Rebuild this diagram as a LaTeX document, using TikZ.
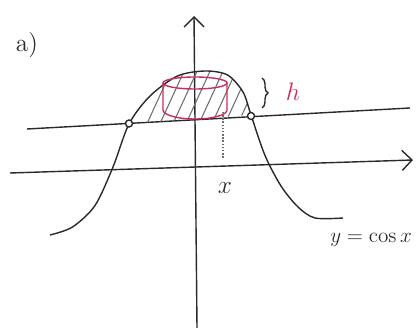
\documentclass[tikz,border=0pt]{standalone}
\usepackage{amsmath,amssymb}
\usepackage{tikz}
\usetikzlibrary{arrows.meta,calc,decorations.pathreplacing,positioning}
\definecolor{SketchRed}{HTML}{C8305A}
\definecolor{SketchInk}{HTML}{2A2A2A}
\definecolor{SketchPencil}{HTML}{6E6E6E}

\begin{document}
\begin{tikzpicture}[
          axis/.style={-{Straight Barb[length=2mm]},thick,draw=SketchInk},
          level/.style={thick,draw=SketchInk},
          curve/.style={thick,draw=SketchInk,smooth},
          hatch/.style={semithick,draw=SketchPencil},
          solid body/.style={thick,draw=SketchRed},
          dotmark/.style={circle,draw=SketchInk,thick,fill=white,inner sep=0pt,minimum size=1.4mm},
          drop/.style={densely dotted,thick,draw=SketchPencil},
          tag/.style={font=\Large,text=SketchInk}
        ]
        \path[use as bounding box] (0,0) rectangle (8.38,6.56);

        \draw[axis] (0.20,3.10) -- (8.26,3.36);
        \draw[axis] (3.94,0) -- (3.88,6.24);
        \draw[level] (0.54,3.98) -- (8.20,4.40);

        \begin{scope}
          \clip plot[smooth] coordinates {(2.58,4.08) (3.00,4.64)
            (3.55,5.04) (4.10,5.14) (4.55,5.06) (4.86,4.72) (5.02,4.26)}
            -- cycle;
          \foreach \hx in {2.9,3.16,...,5.0}
            \draw[hatch] (\hx,4.0) -- ++(0.55,1.2);
        \end{scope}

        \draw[curve] plot coordinates {(1.00,1.86) (1.45,2.02) (1.90,2.45)
          (2.26,3.22) (2.58,4.08) (3.00,4.64) (3.55,5.04) (4.10,5.14)
          (4.55,5.06) (4.86,4.72) (5.02,4.26) (5.30,3.45) (5.62,2.84)
          (5.96,2.42) (6.30,2.20) (6.86,2.20)};

        \draw[solid body] (3.90,4.90) ellipse[x radius=0.64,y radius=0.12];
        \draw[solid body] (3.26,4.90) -- (3.26,4.36)
          arc[start angle=180,end angle=360,x radius=0.64,y radius=0.18]
          -- (4.54,4.90);

        \coordinate (cutL) at (2.58,4.09);
        \coordinate (cutR) at (5.02,4.24);
        \node[dotmark] (dotL) at (cutL) {};
        \node[dotmark] (dotR) at (cutR) {};

        \coordinate (rimR) at (4.46,4.32);
        \coordinate (footR) at (4.46,3.40);
        \draw[drop] (rimR) -- (footR);

        \draw[thick,draw=SketchInk,decorate,decoration={brace,amplitude=1.2mm}]
          (5.24,5.00) -- (5.24,4.40);
        \node[font=\Large,text=SketchRed] (hgt) at (5.86,4.72) {$h$};

        \node[tag] (part) at (0.54,5.66) {a)};
        \node[tag] (xlab) at (4.50,2.80) {$x$};
        \node[font=\large,text=SketchInk,anchor=east] (curvelab) at (8.36,1.76) {$y=\cos x$};
      \end{tikzpicture}
\end{document}
